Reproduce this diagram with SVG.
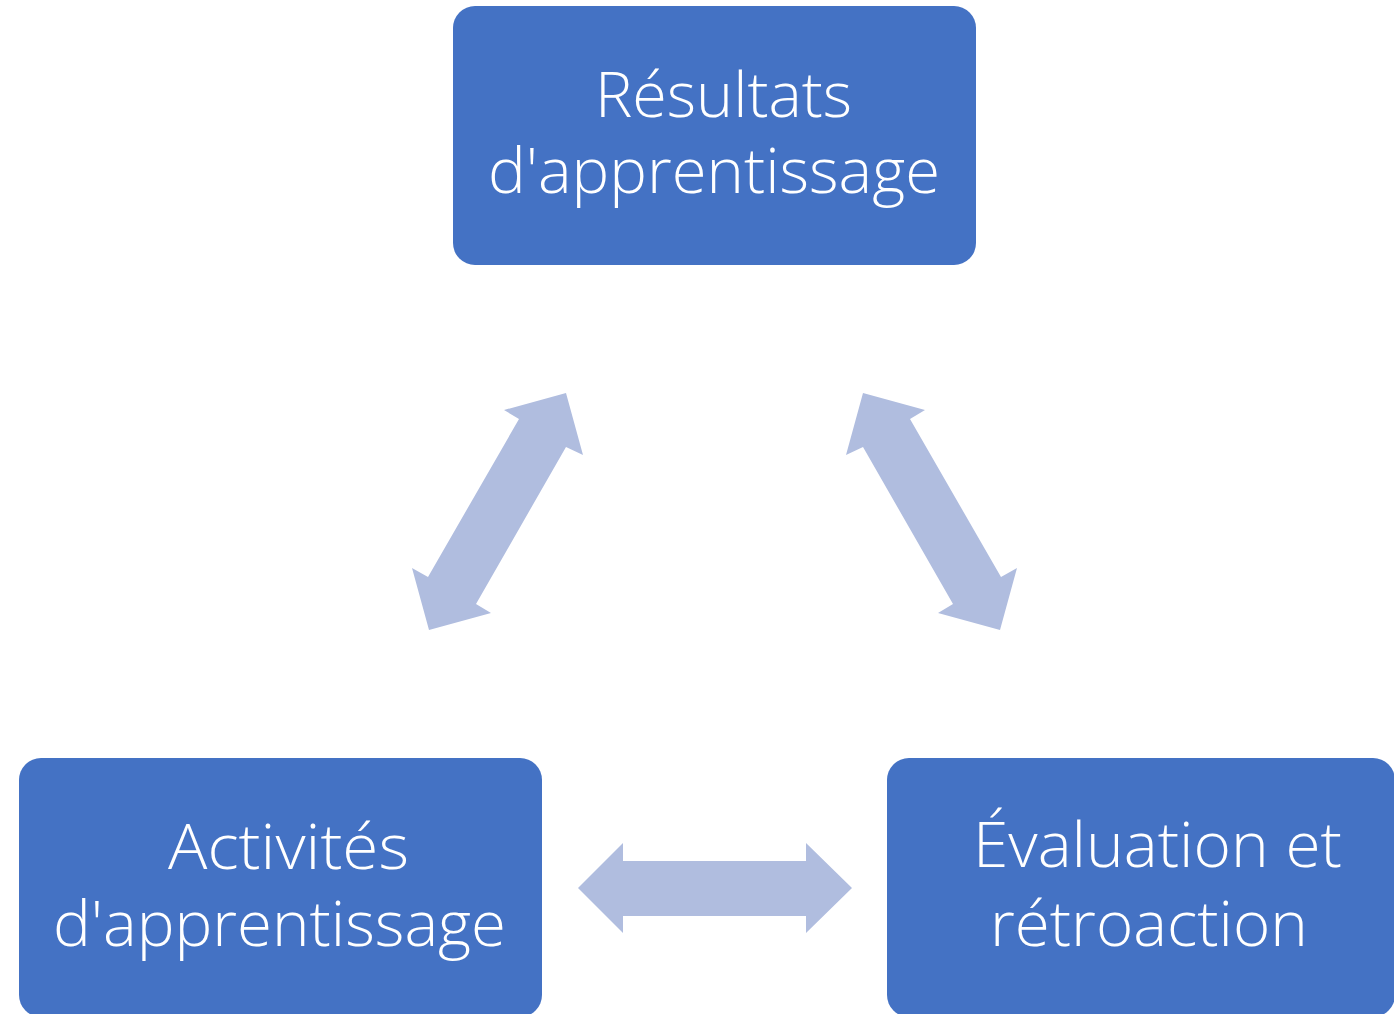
<svg xmlns="http://www.w3.org/2000/svg" width="1394" height="1014" viewBox="0 0 1394 1014">
<style>
.box{fill:#4472C4;}
.arr{fill:#B0BDDF;}
.t{fill:#FFFFFF;font-family:"Open Sans","Liberation Sans",sans-serif;font-weight:300;font-size:62px;}
</style>
<rect x="0" y="0" width="1394" height="1014" fill="#FFFFFF"/>
<g id="connectors">
<polygon class="arr" points="566,393 504,410 519,419 428,577 412,568 429,630 491,613 476,604 566,447 583,455"/>
<polygon class="arr" points="863,393 925,410 910,419 1001,577 1017,568 1000,630 938,613 953,604 863,447 846,455"/>
<polygon class="arr" points="578,888 623,843 623,861 806,861 806,843 852,888 806,933 806,916 623,916 623,933"/>
</g>
<g id="node-resultats">
<rect class="box" x="453" y="6" width="523" height="259" rx="22" ry="22"/>
<text class="t" x="595" y="117" textLength="257" lengthAdjust="spacingAndGlyphs">Résultats</text>
<text class="t" x="488" y="193" textLength="452" lengthAdjust="spacingAndGlyphs">d'apprentissage</text>
</g>
<g id="node-activites">
<rect class="box" x="19" y="758" width="523" height="259" rx="22" ry="22"/>
<text class="t" x="168" y="869" textLength="241" lengthAdjust="spacingAndGlyphs">Activités</text>
<text class="t" x="53" y="946" textLength="453" lengthAdjust="spacingAndGlyphs">d'apprentissage</text>
</g>
<g id="node-evaluation">
<rect class="box" x="887" y="758" width="508" height="259" rx="22" ry="22"/>
<text class="t" x="973" y="867" textLength="369" lengthAdjust="spacingAndGlyphs">Évaluation et</text>
<text class="t" x="990" y="946" textLength="318" lengthAdjust="spacingAndGlyphs">rétroaction</text>
</g>
</svg>
